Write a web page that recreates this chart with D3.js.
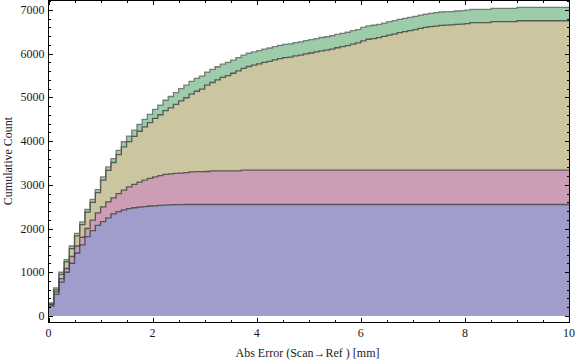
<!DOCTYPE html>
<html><head><meta charset="utf-8">
<script src="https://cdn.jsdelivr.net/npm/d3@7"></script>
<style>html,body{margin:0;padding:0;background:#fff}svg{display:block}</style>
</head><body>
<svg id="chart" width="576" height="362"></svg>
<script>
// Bin starts (mm), bin width 0.1
const binWidth = 0.1;
const binStarts = d3.range(100).map(i => +(i * binWidth).toFixed(1));

// Cumulative counts per series (stacked bottom to top)
const seriesBlue = [225,495,775,1000,1205,1440,1625,1815,1950,2070,2160,2245,2335,2385,2425,2455,2475,2490,2500,2515,2520,2530,2535,2540,2545,2548,
2550,2550,2550,2550,2550,2550,2550,2550,2550,2550,2550,2550,2550,2550,2550,2550,2550,2550,2550,2550,2550,2550,2550,2550,2550,2550,2550,2550,2550,2550,
2550,2550,2550,2550,2550,2550,2550,2550,2550,2550,2550,2550,2550,2550,2550,2550,2550,2550,2550,2550,2550,2550,2550,2550,2550,2550,2550,2550,2550,2550,
2550,2550,2550,2550,2550,2550,2550,2550,2550,2550,2550,2550,2550,2550];
const seriesPink = [37,55,81,85,155,160,175,185,240,290,335,365,365,415,455,498,533,570,607,631,662,680,702,711,715,717,728,747,750,752,755,
770,770,770,770,770,770,
785,785,785,785,785,785,785,785,785,785,785,785,785,785,785,785,785,785,785,785,785,785,785,785,785,785,785,785,785,785,785,785,785,785,785,785,
785,785,785,785,785,785,785,785,785,785,785,785,785,785,785,785,785,785,785,785,785,785,785,785,785,785,785,785,785,785,785,785,785];
const seriesOlive = [8,45,94,150,182,230,288,376,409,462,613,720,810,890,990,1034,1102,1165,1218,1276,1338,1393,1458,1511,1578,1653,1714,1776,1840,1888,
1975,2020,2080,2139,2180,2232,2288,2328,2372,2402,2431,2466,2491,2521,2551,2576,2586,2616,2630,2660,2680,2705,2730,2747,2770,2800,2825,2850,2885,2910,
2960,2995,3010,3030,3060,3091,3114,3146,3168,3192,3215,3244,3265,3283,3297,3313,3320,3322,3336,3343,3354,3374,3374,3374,3374,3396,3396,3396,3396,3396,
3418,3418,3418,3418,3418,3418,3418,3418,3418,3418];
const seriesGreen = [30,45,50,55,58,60,62,64,66,68,72,80,90,100,115,128,140,155,170,188,205,222,240,258,272,282,288,292,295,298,
300,300,301,301,301,302,302,302,303,303,304,304,304,304,304,304,304,304,
305,305,305,305,305,305,305,305,305,305,305,305,305,305,305,305,305,305,305,305,305,305,305,305,305,305,305,305,305,305,305,305,
306,306,306,306,306,307,307,307,307,307,307,307,307,307,307,307,307,307,307,307];

const seriesKeys = ["blue","pink","olive","green"];
const seriesColors = {blue:"#a09dcc", pink:"#cc9db5", olive:"#cbc6a0", green:"#9dccab"};
const xTickLabels = [0,2,4,6,8,10];
const yTickLabels = [0,1000,2000,3000,4000,5000,6000,7000];
const xLabel = "Abs Error (Scan\u2192Ref ) [mm]";
const yLabel = "Cumulative Count";

const rows = binStarts.map((b,i) => ({x:b, blue:seriesBlue[i], pink:seriesPink[i], olive:seriesOlive[i], green:seriesGreen[i]}));
const last = rows[rows.length-1];
rows.push(Object.assign({}, last, {x: 10}));

const svg = d3.select("#chart");
const x = d3.scaleLinear().domain([0,10]).range([48.5,569]);
const y = d3.scaleLinear().domain([-150,7205]).range([322.5,1]);

const stacked = d3.stack().keys(seriesKeys)(rows);

const area = d3.area().x(d=>x(d.data.x)).y0(d=>y(d[0])).y1(d=>y(d[1])).curve(d3.curveStepAfter);
const topLine = d3.line().x(d=>x(d.data.x)).y(d=>y(d[1])).curve(d3.curveStepAfter);

const g = svg.append("g");
g.selectAll("path.area").data(stacked).join("path")
  .attr("class","area")
  .attr("d", area)
  .attr("fill", d=>seriesColors[d.key]);
g.selectAll("path.edge").data(stacked).join("path")
  .attr("class","edge")
  .attr("d", topLine)
  .attr("fill","none")
  .attr("stroke", d=> d.key==="green" ? "rgba(90,90,90,0.75)" : "rgba(55,60,60,0.8)")
  .attr("stroke-width",1.3);

// Frame
svg.append("rect").attr("x",48.5).attr("y",0.5).attr("width",521).attr("height",322)
  .attr("fill","none").attr("stroke","#000").attr("stroke-width",1);

// Ticks
const ax = svg.append("g").attr("stroke","#000").attr("stroke-width",1);
const xt = d3.range(0,10.001,0.5);
xt.forEach(v=>{
  const major = Math.abs(v/2 - Math.round(v/2))<1e-6;
  const L = major?4.5:2.5;
  const px = Math.round(x(v))+0.5;
  ax.append("line").attr("x1",px).attr("x2",px).attr("y1",322.5).attr("y2",322.5-L);
  ax.append("line").attr("x1",px).attr("x2",px).attr("y1",0.5).attr("y2",0.5+L);
});
const yt = d3.range(0,7201,200);
yt.forEach(v=>{
  const major = v%1000===0;
  const L = major?4.5:2.5;
  const py = Math.round(y(v))+0.5;
  ax.append("line").attr("x1",48.5).attr("x2",48.5+L).attr("y1",py).attr("y2",py);
  ax.append("line").attr("x1",569.5).attr("x2",569.5-L).attr("y1",py).attr("y2",py);
});

const font = "'Liberation Serif','Times New Roman',serif";
svg.append("g").selectAll("text").data(xTickLabels).join("text")
  .attr("x",d=>x(d)).attr("y",337).attr("text-anchor","middle")
  .attr("font-family",font).attr("font-size",12).attr("fill","#1a1a1a").text(d=>d);
svg.append("g").selectAll("text").data(yTickLabels).join("text")
  .attr("x",44.5).attr("y",d=>y(d)+4).attr("text-anchor","end")
  .attr("font-family",font).attr("font-size",12).attr("fill","#1a1a1a").text(d=>d);

svg.append("text").attr("x",307.5).attr("y",356.5).attr("text-anchor","middle")
  .attr("font-family",font).attr("font-size",12).attr("fill","#1a1a1a").text(xLabel);
svg.append("text").attr("transform","translate(12,161) rotate(-90)").attr("text-anchor","middle")
  .attr("font-family",font).attr("font-size",12).attr("fill","#1a1a1a").text(yLabel);
</script>
</body></html>
